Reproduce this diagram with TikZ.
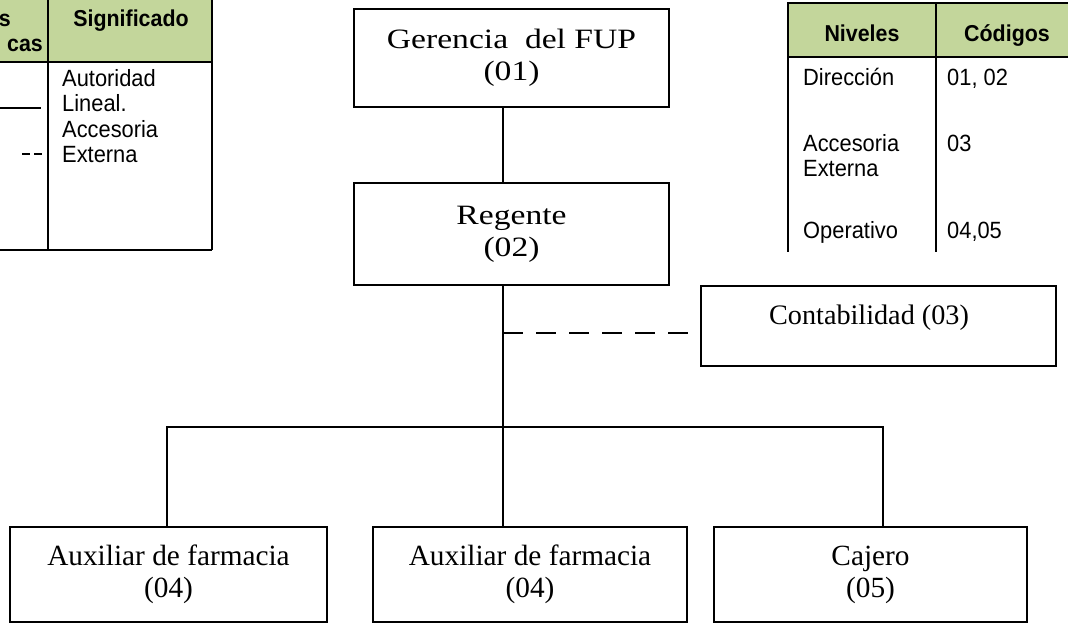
\documentclass[tikz,border=0pt]{standalone}
\usepackage{graphicx}
\usepackage{fontspec}
\setmainfont{Liberation Serif}
\newfontfamily\tabfont[FakeStretch=0.93]{Liberation Sans}
\definecolor{hdrgreen}{HTML}{C3D69B}
\newcommand{\wideline}[1]{\scalebox{1.2}[1]{#1}}
\begin{document}
\begin{tikzpicture}[x=1pt,y=-1pt,
  orgbox/.style={draw=black, line width=2pt, rectangle, inner sep=0pt, align=center,
    font=\fontsize{29.3}{32}\selectfont},
  topbox/.style={orgbox, font=\fontsize{28}{32}\selectfont},
  orgline/.style={draw=black, line width=2pt},
  tabline/.style={draw=black, line width=2pt},
  tabtxt/.style={inner sep=0pt, font=\tabfont\fontsize{23.5}{25.5}\selectfont},
  tabhdr/.style={inner sep=0pt, font=\tabfont\bfseries\fontsize{23}{26}\selectfont}
]
\useasboundingbox (0,0) rectangle (1068,624);

% ---------- left legend table ----------
\fill[hdrgreen] (0,0) rectangle (212,62);
\draw[tabline] (0,62) -- (212,62);
\draw[tabline] (48,0) -- (48,250);
\draw[tabline] (212,0) -- (212,250);
\draw[tabline] (0,250) -- (212,250);
\node[tabhdr, anchor=base east] (lh1) at (11,26) {s};
\node[tabhdr, anchor=base east] (lh2) at (43,51) {cas};
\node[tabhdr, anchor=base] (lh3) at (131,26) {Significado};
\draw[line width=1.2pt] (0,108) -- (41,108);
\draw[line width=1.2pt, dash pattern=on 8pt off 4pt] (22,154) -- (42,154);
\node[tabtxt, anchor=base west] (lt1) at (62,86) {Autoridad};
\node[tabtxt, anchor=base west] (lt2) at (62,111.5) {Lineal.};
\node[tabtxt, anchor=base west] (lt3) at (62,137) {Accesoria};
\node[tabtxt, anchor=base west] (lt4) at (62,162.5) {Externa};

% ---------- right levels table ----------
\fill[hdrgreen] (788,3) rectangle (1068,57);
\draw[tabline] (788,3) -- (1068,3);
\draw[tabline] (788,57) -- (1068,57);
\draw[tabline] (788,2) -- (788,252);
\draw[tabline] (936,2) -- (936,252);
\node[tabhdr, anchor=base] (rh1) at (862,41) {Niveles};
\node[tabhdr, anchor=base] (rh2) at (1007,41) {Códigos};
\node[tabtxt, anchor=base west] (rt1) at (803,85) {Dirección};
\node[tabtxt, anchor=base west] (rt2) at (803,151) {Accesoria};
\node[tabtxt, anchor=base west] (rt3) at (803,176) {Externa};
\node[tabtxt, anchor=base west] (rt4) at (803,238) {Operativo};
\node[tabtxt, anchor=base west] (rc1) at (947,85) {01, 02};
\node[tabtxt, anchor=base west] (rc2) at (947,151) {03};
\node[tabtxt, anchor=base west] (rc3) at (947,238) {04,05};

% ---------- org chart ----------
\node[topbox, minimum width=315pt, minimum height=98pt] (ger) at (511.5,58)
  {\wideline{Gerencia~ del FUP}\\\wideline{(01)}};
\node[topbox, minimum width=315pt, minimum height=102pt] (reg) at (511.5,234)
  {\wideline{Regente}\\\wideline{(02)}};
\node[orgbox, minimum width=355pt, minimum height=80pt] (con) at (878.5,326) {};
\node[inner sep=0pt, font=\fontsize{28.2}{32}\selectfont] (contxt) at (869,318) {Contabilidad (03)};
\node[orgbox, minimum width=317pt, minimum height=95pt] (aux1) at (168.5,574.5) {Auxiliar de farmacia\\(04)};
\node[orgbox, minimum width=314pt, minimum height=95pt] (aux2) at (530,574.5) {Auxiliar de farmacia\\(04)};
\node[orgbox, minimum width=313pt, minimum height=95pt] (caj) at (870.5,574.5) {Cajero\\(05)};

\coordinate (trunk) at (503,0);
\coordinate (d1) at (167,427);
\coordinate (d2) at (503,427);
\coordinate (d3) at (883,427);
\coordinate (dashstart) at (503,333);
\coordinate (dashend) at (688,333);

\draw[orgline] (ger.south -| trunk) -- (reg.north -| trunk);
\draw[orgline] (reg.south -| trunk) -- (d2);
\draw[orgline] (d1 |- aux1.north) -- (d1) -- (d3) -- (d3 |- caj.north);
\draw[orgline] (d2) -- (d2 |- aux2.north);
\draw[orgline, dash pattern=on 20pt off 13pt] (dashstart) -- (dashend);
\end{tikzpicture}
\end{document}
